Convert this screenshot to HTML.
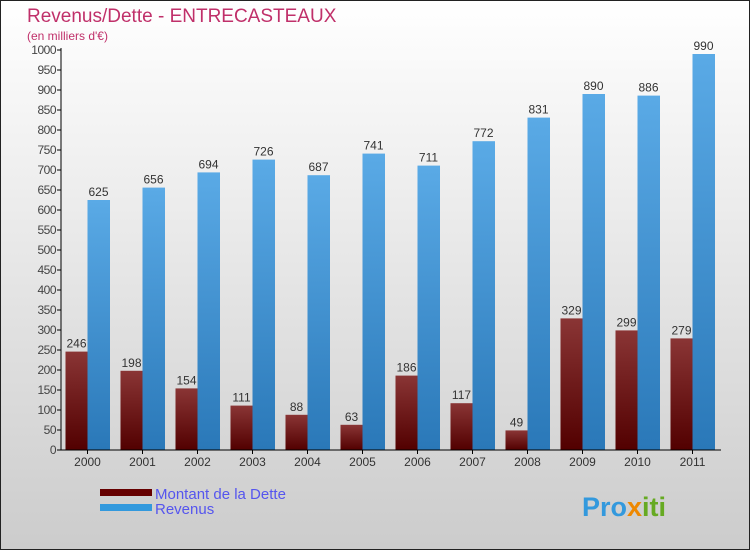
<!DOCTYPE html>
<html><head><meta charset="utf-8"><style>
body{margin:0}
svg{display:block;font-family:"Liberation Sans",sans-serif}
</style></head><body>
<svg id="c" width="750" height="550">
<defs>
<linearGradient id="bg" x1="0" y1="0" x2="0" y2="1"><stop offset="0" stop-color="#ffffff"/><stop offset="1" stop-color="#cccccc"/></linearGradient>
<linearGradient id="gd" x1="0" y1="0" x2="0" y2="1"><stop offset="0" stop-color="#8a3535"/><stop offset="1" stop-color="#520000"/></linearGradient>
<linearGradient id="gr" x1="0" y1="0" x2="0" y2="1"><stop offset="0" stop-color="#5aaae6"/><stop offset="1" stop-color="#2a78b8"/></linearGradient>
</defs>
<rect x="0.5" y="0.5" width="749" height="549" fill="url(#bg)" stroke="#222"/>
<text x="27" y="22" font-size="19" fill="#c0306a">Revenus/Dette - ENTRECASTEAUX</text>
<text x="27" y="40" font-size="12" fill="#c0306a">(en milliers d'€)</text>
<g id="plot"></g>
<rect x="100" y="489" width="52" height="7" fill="#660000"/>
<rect x="100" y="504" width="52" height="7" fill="#3399dd"/>
<text x="155" y="499" font-size="15" fill="#5555ee">Montant de la Dette</text>
<text x="155" y="514" font-size="15" fill="#5555ee">Revenus</text>
<text x="582" y="516" font-size="27" font-weight="bold" fill="#3399dd">Pro<tspan fill="#ee8800">x</tspan><tspan fill="#66aa22">iti</tspan></text>
</svg>
<script>
const years=["2000","2001","2002","2003","2004","2005","2006","2007","2008","2009","2010","2011"];
const dette=[246,198,154,111,88,63,186,117,49,329,299,279];
const revenus=[625,656,694,726,687,741,711,772,831,890,886,990];
const yTicks=[0,50,100,150,200,250,300,350,400,450,500,550,600,650,700,750,800,850,900,950,1000];
const NS="http://www.w3.org/2000/svg",g=document.getElementById('plot');
const x0=61,gw=55,y=v=>450-v*0.4;
function el(t,a,txt){const e=document.createElementNS(NS,t);for(const k in a)e.setAttribute(k,a[k]);if(txt!==undefined)e.textContent=txt;g.appendChild(e);return e;}
yTicks.forEach(t=>{
 const l=el('line',{x1:57,x2:61,y1:y(t),y2:y(t),stroke:'#000'});
 
 
 const tx=el('text',{x:56,y:y(t)+4,'font-size':12,fill:'#444','text-anchor':'end','letter-spacing':'-0.5'},t);
 
 
});
years.forEach((yr,i)=>{
 const cx=x0+gw*i+26.5;
 const d=el('rect',{x:cx-22,y:y(dette[i]),width:22,height:dette[i]*0.4,fill:'url(#gd)'});
 
 
 const r=el('rect',{x:cx,y:y(revenus[i]),width:22.5,height:revenus[i]*0.4,fill:'url(#gr)'});
 
 
 const dl=el('text',{x:cx-11,y:y(dette[i])-4,'font-size':12,fill:'#333','text-anchor':'middle'},dette[i]);
 
 
 const rl=el('text',{x:cx+11,y:y(revenus[i])-4,'font-size':12,fill:'#333','text-anchor':'middle'},revenus[i]);
 
 
 const tk=el('line',{x1:cx,x2:cx,y1:450,y2:454,stroke:'#000'});
 
 
 const xl=el('text',{x:cx,y:466,'font-size':12,fill:'#333','text-anchor':'middle'},yr);
 
 
});
const ya=el('line',{x1:61,x2:61,y1:48,y2:450,stroke:'#000'});


const xa=el('line',{x1:61,x2:721,y1:450,y2:450,stroke:'#000'});


</script>
</body></html>
